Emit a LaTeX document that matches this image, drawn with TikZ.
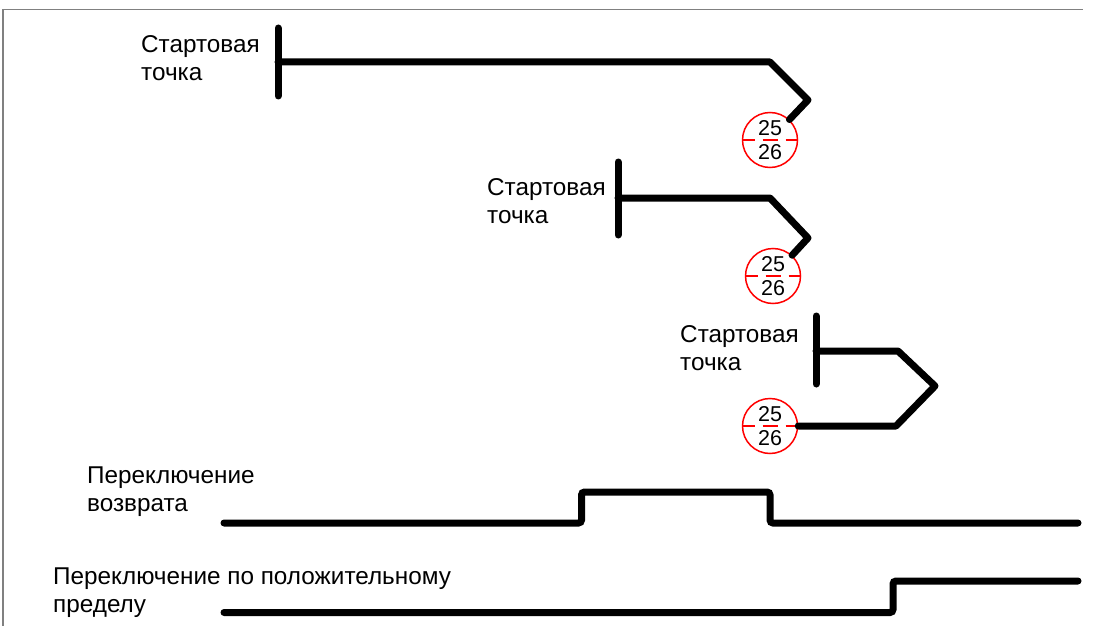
\documentclass[tikz,border=0pt]{standalone}
\usepackage{fontspec}
\setmainfont{Liberation Sans}
\usetikzlibrary{positioning}

\begin{document}
\begin{tikzpicture}[
    x=1pt, y=-1pt,
    wire/.style={line width=7pt, line cap=round, line join=round},
    signal/.style={line width=7pt, line cap=round, rounded corners=3pt},
    limit/.style={circle, draw=red, line width=1.5pt, minimum size=55pt,
                  inner sep=0pt, align=center, font=\fontsize{21.5}{23.5}\selectfont,
                  path picture={\draw[red, line width=2pt,
                      dash pattern=on 12pt off 8pt on 15pt off 8pt]
                      (path picture bounding box.west) -- (path picture bounding box.east);}},
    txt/.style={anchor=north west, inner sep=0pt, align=left,
                font=\fontsize{24.3}{28}\selectfont},
  ]
  \useasboundingbox (0,0) rectangle (1093,626);
  \draw[gray, line width=1.5pt] (3,626) -- (3,9.5) -- (1083,9.5);

  % first run
  \coordinate (start1) at (278,62);
  \coordinate (bend1) at (770,62);
  \coordinate (tip1) at (808,100);
  \node[limit] (lim1) at (770,140) {25\\26};
  \draw[wire] ([yshift=34pt]start1) -- ([yshift=-34pt]start1);
  \draw[wire] (start1) -- (bend1) -- (tip1) -- (lim1);
  \node[txt] (lbl1) at (141,35) {Стартовая\\точка};

  % second run
  \coordinate (start2) at (618,198);
  \coordinate (bend2) at (770,198);
  \coordinate (tip2) at (808,238);
  \node[limit] (lim2) at (773,276) {25\\26};
  \draw[wire] ([yshift=36pt]start2) -- ([yshift=-37pt]start2);
  \draw[wire] (start2) -- (bend2) -- (tip2) -- (lim2);
  \node[txt] (lbl2) at (487,178) {Стартовая\\точка};

  % third run
  \coordinate (start3) at (816,351);
  \coordinate (bend3) at (898,351);
  \coordinate (tip3) at (935,386);
  \coordinate (back3) at (896,426);
  \node[limit] (lim3) at (770,426) {25\\26};
  \draw[wire] ([yshift=35pt]start3) -- ([yshift=-33pt]start3);
  \draw[wire] (start3) -- (bend3) -- (tip3) -- (back3) -- (lim3);
  \node[txt] (lbl3) at (680,325) {Стартовая\\точка};

  % switch signals
  \coordinate (ret0) at (224,523);
  \coordinate (ret1) at (581.5,523);
  \coordinate (ret2) at (770,523);
  \coordinate (ret3) at (1078,523);
  \draw[signal] (ret0) -- (ret1) -- ++(0,-31) -| (ret2) -- (ret3);
  \node[txt] (lbl4) at (87,467) {Переключение\\возврата};

  \coordinate (pos0) at (224,612.5);
  \coordinate (pos1) at (893,612.5);
  \coordinate (pos2) at (1078,581);
  \draw[signal] (pos0) -- (pos1) |- (pos2);
  \node[txt] (lbl5) at (53,568) {Переключение по положительному\\пределу};
\end{tikzpicture}
\end{document}
